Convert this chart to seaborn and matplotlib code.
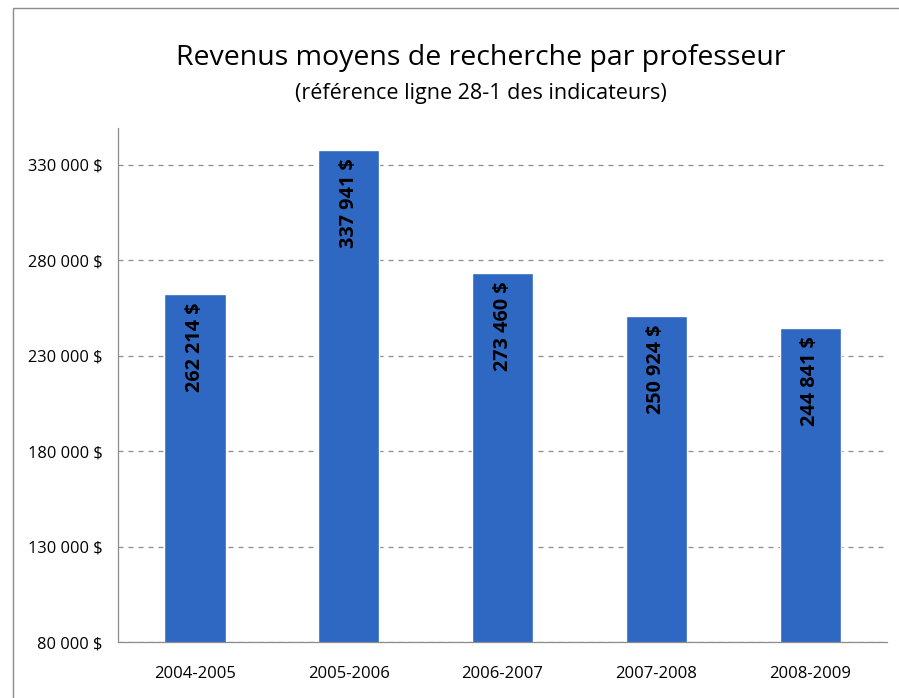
import matplotlib
matplotlib.use("Agg")
import matplotlib.pyplot as plt
import seaborn as sns
import pandas as pd
import numpy as np
from matplotlib.patches import Rectangle

# Données
annees = ["2004-2005", "2005-2006", "2006-2007", "2007-2008", "2008-2009"]
revenus = [262214, 337941, 273460, 250924, 244841]
graduations = [80000, 130000, 180000, 230000, 280000, 330000]

df = pd.DataFrame({"Annee": annees, "Revenu": revenus})

sns.set_style("white")
plt.rcParams["font.family"] = ["Open Sans", "DejaVu Sans"]
plt.rcParams["text.color"] = "black"
plt.rcParams["xtick.labelcolor"] = "black"
plt.rcParams["ytick.labelcolor"] = "black"

fig = plt.figure(figsize=(8.99, 6.98), dpi=100)
ax = fig.add_axes([0.131, 0.080, 0.856, 0.737])

sns.barplot(data=df, x="Annee", y="Revenu", color="#2f68c2", width=0.4,
            saturation=1, ax=ax, zorder=2)

ax.set_ylim(80000, 349500)
ax.set_yticks(graduations)
ax.set_yticklabels([f"{g:,}".replace(",", " ") + " $" for g in graduations], fontsize=11.8)
ax.set_xticks(range(len(annees)))
ax.set_xticklabels(annees, fontsize=12)
ax.set_xlabel("")
ax.set_ylabel("")

# grille pointillée
ax.yaxis.grid(True, linestyle=(0, (4, 4)), color="#8c8c8c", linewidth=0.9, zorder=0)
ax.set_axisbelow(True)

for s in ["top", "right"]:
    ax.spines[s].set_visible(False)
for s in ["left", "bottom"]:
    ax.spines[s].set_color("#8c8c8c")
    ax.spines[s].set_linewidth(0.9)

ax.tick_params(axis="y", length=4, color="#8c8c8c", pad=7)
ax.tick_params(axis="x", which="major", length=0, pad=17)
ax.set_xticks(np.arange(-0.5, len(annees), 1), minor=True)
ax.tick_params(axis="x", which="minor", length=5, color="#8c8c8c", direction="out")
ax.set_xlim(-0.5, len(annees) - 0.5)

# étiquettes des valeurs (lues de bas en haut)
for i, v in enumerate(revenus):
    ax.annotate(f"{v:,}".replace(",", " ") + " $", xy=(i, v), xytext=(0, -6),
                textcoords="offset points", ha="center", va="top",
                rotation=90, fontsize=14.3, fontweight="bold", color="black")

fig.text(0.535, 0.917, "Revenus moyens de recherche par professeur",
         ha="center", va="center", fontsize=20.5, color="black")
fig.text(0.535, 0.866, "(référence ligne 28-1 des indicateurs)",
         ha="center", va="center", fontsize=15.5, color="black")

# cadre du graphique
cadre = Rectangle((13 / 899, -0.05), 1.2, 1 - 8 / 698 + 0.05, transform=fig.transFigure,
                  fill=False, edgecolor="#8c8c8c", linewidth=1.0)
fig.patches.append(cadre)

fig.savefig("out.png", dpi=100)
